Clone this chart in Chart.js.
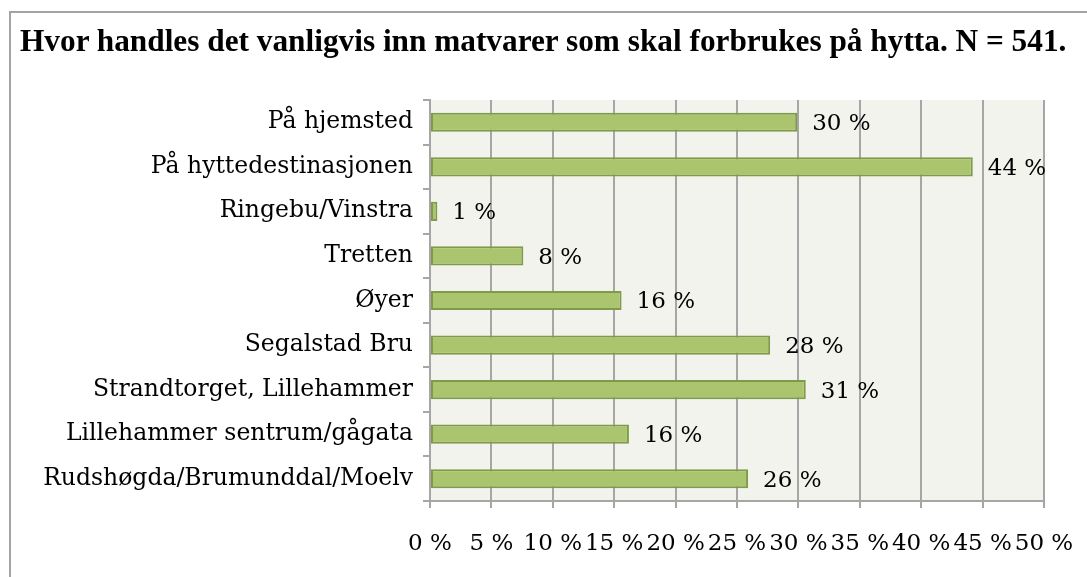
<!DOCTYPE html>
<html>
<head>
<meta charset="utf-8">
<script src="https://cdn.jsdelivr.net/npm/chart.js@4/dist/chart.umd.min.js"></script>
<style>
  html, body { margin: 0; padding: 0; background: #fff; }
  #frame { position: absolute; left: 9px; top: 11px; width: 1100px; height: 600px; border: 2px solid #a3a3a3; }
  #chart { position: absolute; left: 0; top: 0; }
  #title { position: absolute; left: 20px; top: 25px; white-space: nowrap; font: bold 31.3px "Liberation Serif"; line-height: 1; color: #000; }
</style>
</head>
<body>
<div id="frame"></div>
<canvas id="chart" width="1087" height="577"></canvas>
<div id="title"></div>
<script>
const titleText = 'Hvor handles det vanligvis inn matvarer som skal forbrukes på hytta. N = 541.';
const places = [
  'På hjemsted',
  'På hyttedestinasjonen',
  'Ringebu/Vinstra',
  'Tretten',
  'Øyer',
  'Segalstad Bru',
  'Strandtorget, Lillehammer',
  'Lillehammer sentrum/gågata',
  'Rudshøgda/Brumunddal/Moelv'
];
const shares = [29.9, 44.2, 0.6, 7.6, 15.6, 27.7, 30.6, 16.2, 25.9];
const axisMax = 50;
const axisStep = 5;

document.getElementById('title').textContent = titleText;

const plotBackground = {
  id: 'plotBackground',
  beforeDraw: (chart) => {
    const { ctx, chartArea } = chart;
    ctx.save();
    ctx.fillStyle = '#f1f3ec';
    ctx.fillRect(chartArea.left, chartArea.top, chartArea.right - chartArea.left, chartArea.bottom - chartArea.top);
    ctx.restore();
  }
};

const valueLabels = {
  id: 'valueLabels',
  afterDatasetsDraw: (chart) => {
    const ctx = chart.ctx;
    ctx.save();
    ctx.font = '23px "DejaVu Serif"';
    ctx.fillStyle = '#000';
    ctx.textAlign = 'left';
    ctx.textBaseline = 'middle';
    chart.getDatasetMeta(0).data.forEach((bar, i) => {
      ctx.fillText(Math.round(shares[i]) + ' %', bar.x + 15, bar.y + 2);
    });
    ctx.restore();
  }
};

const ctx = document.getElementById('chart').getContext('2d');
new Chart(ctx, {
  type: 'bar',
  data: {
    labels: places,
    datasets: [{
      data: shares,
      backgroundColor: '#abc56f',
      borderColor: '#7f9a48',
      borderWidth: 2,
      borderSkipped: false,
      categoryPercentage: 1,
      barPercentage: 0.43
    }]
  },
  options: {
    indexAxis: 'y',
    responsive: false,
    animation: false,
    layout: { padding: { left: 20, right: 43, top: 100, bottom: 0 } },
    plugins: {
      legend: { display: false },
      tooltip: { enabled: false },
      title: { display: false }
    },
    scales: {
      x: {
        min: 0,
        max: axisMax,
        ticks: {
          stepSize: axisStep,
          color: '#000',
          padding: 22,
          maxRotation: 0,
          minRotation: 0,
          autoSkip: false,
          font: { family: 'DejaVu Serif', size: 23 },
          callback: (v) => v + ' %'
        },
        grid: { color: '#a6a6a6', lineWidth: 2, tickLength: 7 },
        border: { color: '#a6a6a6', width: 2 },
        afterFit: (scale) => {
          scale.height = 76;
          scale.paddingLeft = 0;
          scale.paddingRight = 0;
        }
      },
      y: {
        ticks: {
          color: '#000',
          padding: 10,
          font: { family: 'DejaVu Serif', size: 23.5 }
        },
        grid: { offset: true, drawOnChartArea: false, color: '#a6a6a6', lineWidth: 2, tickLength: 7 },
        border: { color: '#a6a6a6', width: 2 },
        afterFit: (scale) => { scale.width = 410; }
      }
    }
  },
  plugins: [plotBackground, valueLabels]
});
</script>
</body>
</html>
